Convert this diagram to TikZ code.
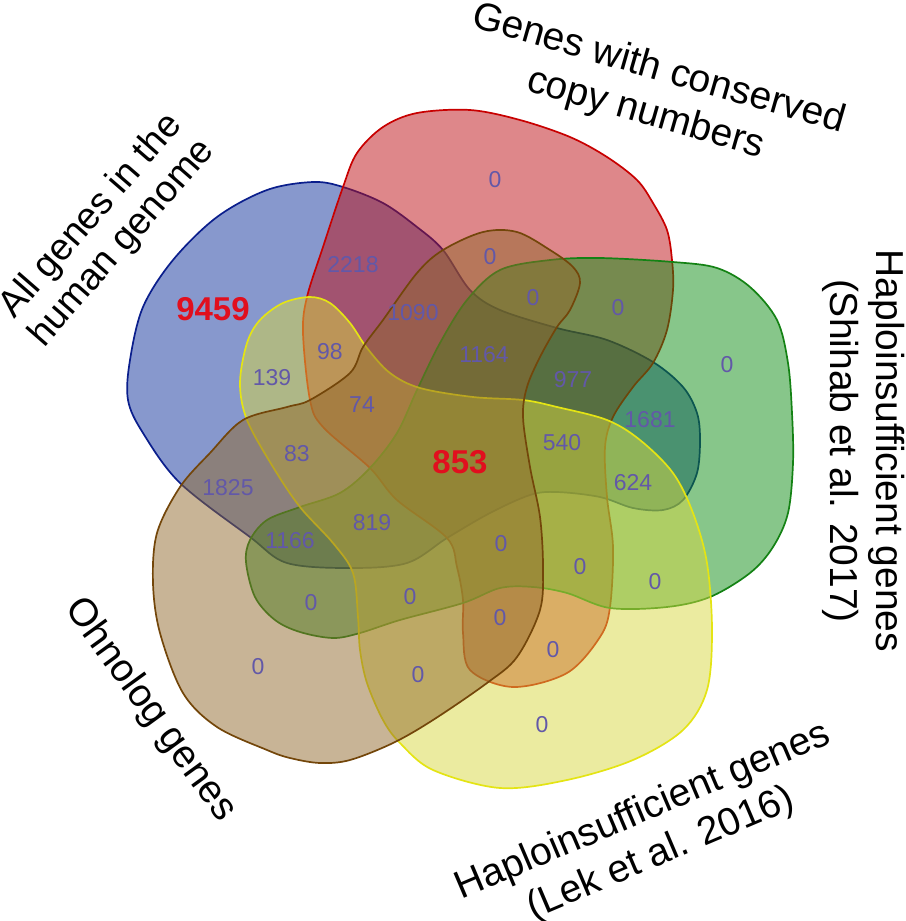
\documentclass[tikz,border=0pt]{standalone}
\usepackage{fontspec}
\setmainfont{Liberation Sans}
\definecolor{bluef}{RGB}{15,49,155}
\definecolor{bluel}{RGB}{10,30,140}
\definecolor{redf}{RGB}{189,15,21}
\definecolor{redl}{RGB}{200,0,0}
\definecolor{greenf}{RGB}{15,141,21}
\definecolor{greenl}{RGB}{20,130,20}
\definecolor{yellowf}{RGB}{215,215,65}
\definecolor{yellowl}{RGB}{228,228,20}
\definecolor{brownf}{RGB}{145,105,45}
\definecolor{brownl}{RGB}{115,70,10}
\definecolor{numc}{RGB}{98,88,168}
\definecolor{bigc}{RGB}{225,15,30}
\begin{document}
\begin{tikzpicture}[x=1pt,y=-1pt,
  setshape/.style={line width=1.7pt, fill opacity=0.5},
  num/.style={text=numc, font=\fontsize{23}{23}\selectfont, inner sep=0pt},
  bignum/.style={text=bigc, font=\fontsize{33}{33}\selectfont\bfseries, inner sep=0pt},
  setlabel/.style={align=center, font=\fontsize{39}{46}\selectfont, inner sep=0pt}]
\useasboundingbox (0,0) rectangle (905,921);
% blue
\draw[setshape, draw=bluel, fill=bluef] plot[smooth cycle, tension=0.55] coordinates {(313,182) (343,187) (383,203) (417,227) (443,250) (470,290) (500,310) (557,328) (607,340) (653,362) (683,387) (697,413) (700,440) (697,473) (683,500) (663,510) (633,508) (600,497) (557,492) (530,495) (490,513) (447,538) (407,563) (350,568) (287,563) (250,537) (180,483) (143,433) (128,400) (130,360) (143,307) (173,260) (217,217) (267,190)};
% red
\draw[setshape, draw=redl, fill=redf] plot[smooth cycle, tension=0.55] coordinates {(417,113) (470,110) (520,120) (570,137) (607,157) (637,180) (653,203) (667,230) (672,260) (673,290) (667,330) (653,363) (633,387) (613,417) (605,447) (607,497) (613,547) (610,607) (600,637) (567,673) (513,687) (470,670) (463,633) (463,600) (457,567) (447,538) (397,500) (370,468) (323,427) (310,400) (303,333) (307,297) (323,247) (343,187) (357,153) (383,127)};
% green
\draw[setshape, draw=greenl, fill=greenf] plot[smooth cycle, tension=0.55] coordinates {(550,260) (600,258) (673,262) (717,268) (750,287) (777,320) (788,363) (792,413) (793,463) (788,513) (773,547) (750,573) (710,597) (667,607) (610,608) (567,593) (533,587) (500,588) (463,603) (400,620) (360,633) (333,638) (300,632) (275,620) (255,597) (246,562) (250,540) (267,520) (300,507) (340,493) (370,468) (397,433) (417,390) (440,343) (467,300) (500,270)};
% yellow
\draw[setshape, draw=yellowl, fill=yellowf] plot[smooth cycle, tension=0.55] coordinates {(310,297) (330,303) (350,323) (367,348) (390,373) (420,388) (473,397) (523,400) (557,407) (607,420) (640,440) (673,473) (693,513) (707,563) (712,630) (707,690) (683,730) (633,760) (567,780) (500,788) (433,770) (400,743) (383,720) (367,683) (360,650) (358,617) (353,573) (333,543) (300,507) (273,467) (247,420) (240,383) (247,343) (260,320) (283,303)};
% brown
\draw[setshape, draw=brownl, fill=brownf] plot[smooth cycle, tension=0.55] coordinates {(443,250) (483,232) (517,232) (550,250) (573,267) (580,283) (570,310) (557,327) (540,357) (527,387) (523,417) (530,467) (540,517) (543,567) (540,610) (517,657) (487,683) (433,720) (393,743) (350,760) (320,763) (290,758) (267,750) (217,727) (183,693) (160,633) (153,583) (157,533) (180,487) (210,453) (243,420) (287,407) (310,400) (350,373) (363,347) (383,320) (417,273)};
% numbers
\node[bignum] (n9459) at (213,309) {9459};
\node[bignum] (n853) at (460,462) {853};
\node[num] (n2218) at (353,265) {2218};
\node[num] (nr) at (495,180) {0};
\node[num] (nrb) at (490,257) {0};
\node[num] (nrgb) at (533,298) {0};
\node[num] (nrg) at (618,308) {0};
\node[num] (n1090) at (413,313) {1090};
\node[num] (n98) at (330,352) {98};
\node[num] (n139) at (272,378) {139};
\node[num] (n1164) at (484,355) {1164};
\node[num] (n977) at (573,380) {977};
\node[num] (ng) at (727,365) {0};
\node[num] (n1681) at (650,420) {1681};
\node[num] (n74) at (362,405) {74};
\node[num] (n83) at (297,454) {83};
\node[num] (n540) at (562,443) {540};
\node[num] (n624) at (633,483) {624};
\node[num] (n1825) at (228,488) {1825};
\node[num] (n819) at (372,523) {819};
\node[num] (n1166) at (290,541) {1166};
\node[num] (nq) at (501,544) {0};
\node[num] (nrgy) at (580,567) {0};
\node[num] (ngy) at (655,582) {0};
\node[num] (ngb) at (311,603) {0};
\node[num] (ngyb) at (410,597) {0};
\node[num] (nryb) at (500,618) {0};
\node[num] (nry) at (553,650) {0};
\node[num] (nb) at (258,667) {0};
\node[num] (nyb) at (418,675) {0};
\node[num] (ny) at (542,725) {0};
% set labels
\node[setlabel, font=\fontsize{37.5}{41}\selectfont, rotate=49] (lblue) at (107,230) {All genes in the\\human genome};
\node[setlabel, rotate=-16] (lred) at (652,92) {Genes with conserved\\copy numbers};
\node[setlabel, rotate=-90] (lgreen) at (864,451) {Haploinsufficient genes\\(Shihab et al. 2017)};
\node[setlabel, rotate=23] (lyellow) at (652,833) {Haploinsufficient genes\\(Lek et al. 2016)};
\node[setlabel, rotate=-54] (lbrown) at (150,710) {Ohnolog genes};
\end{tikzpicture}
\end{document}
